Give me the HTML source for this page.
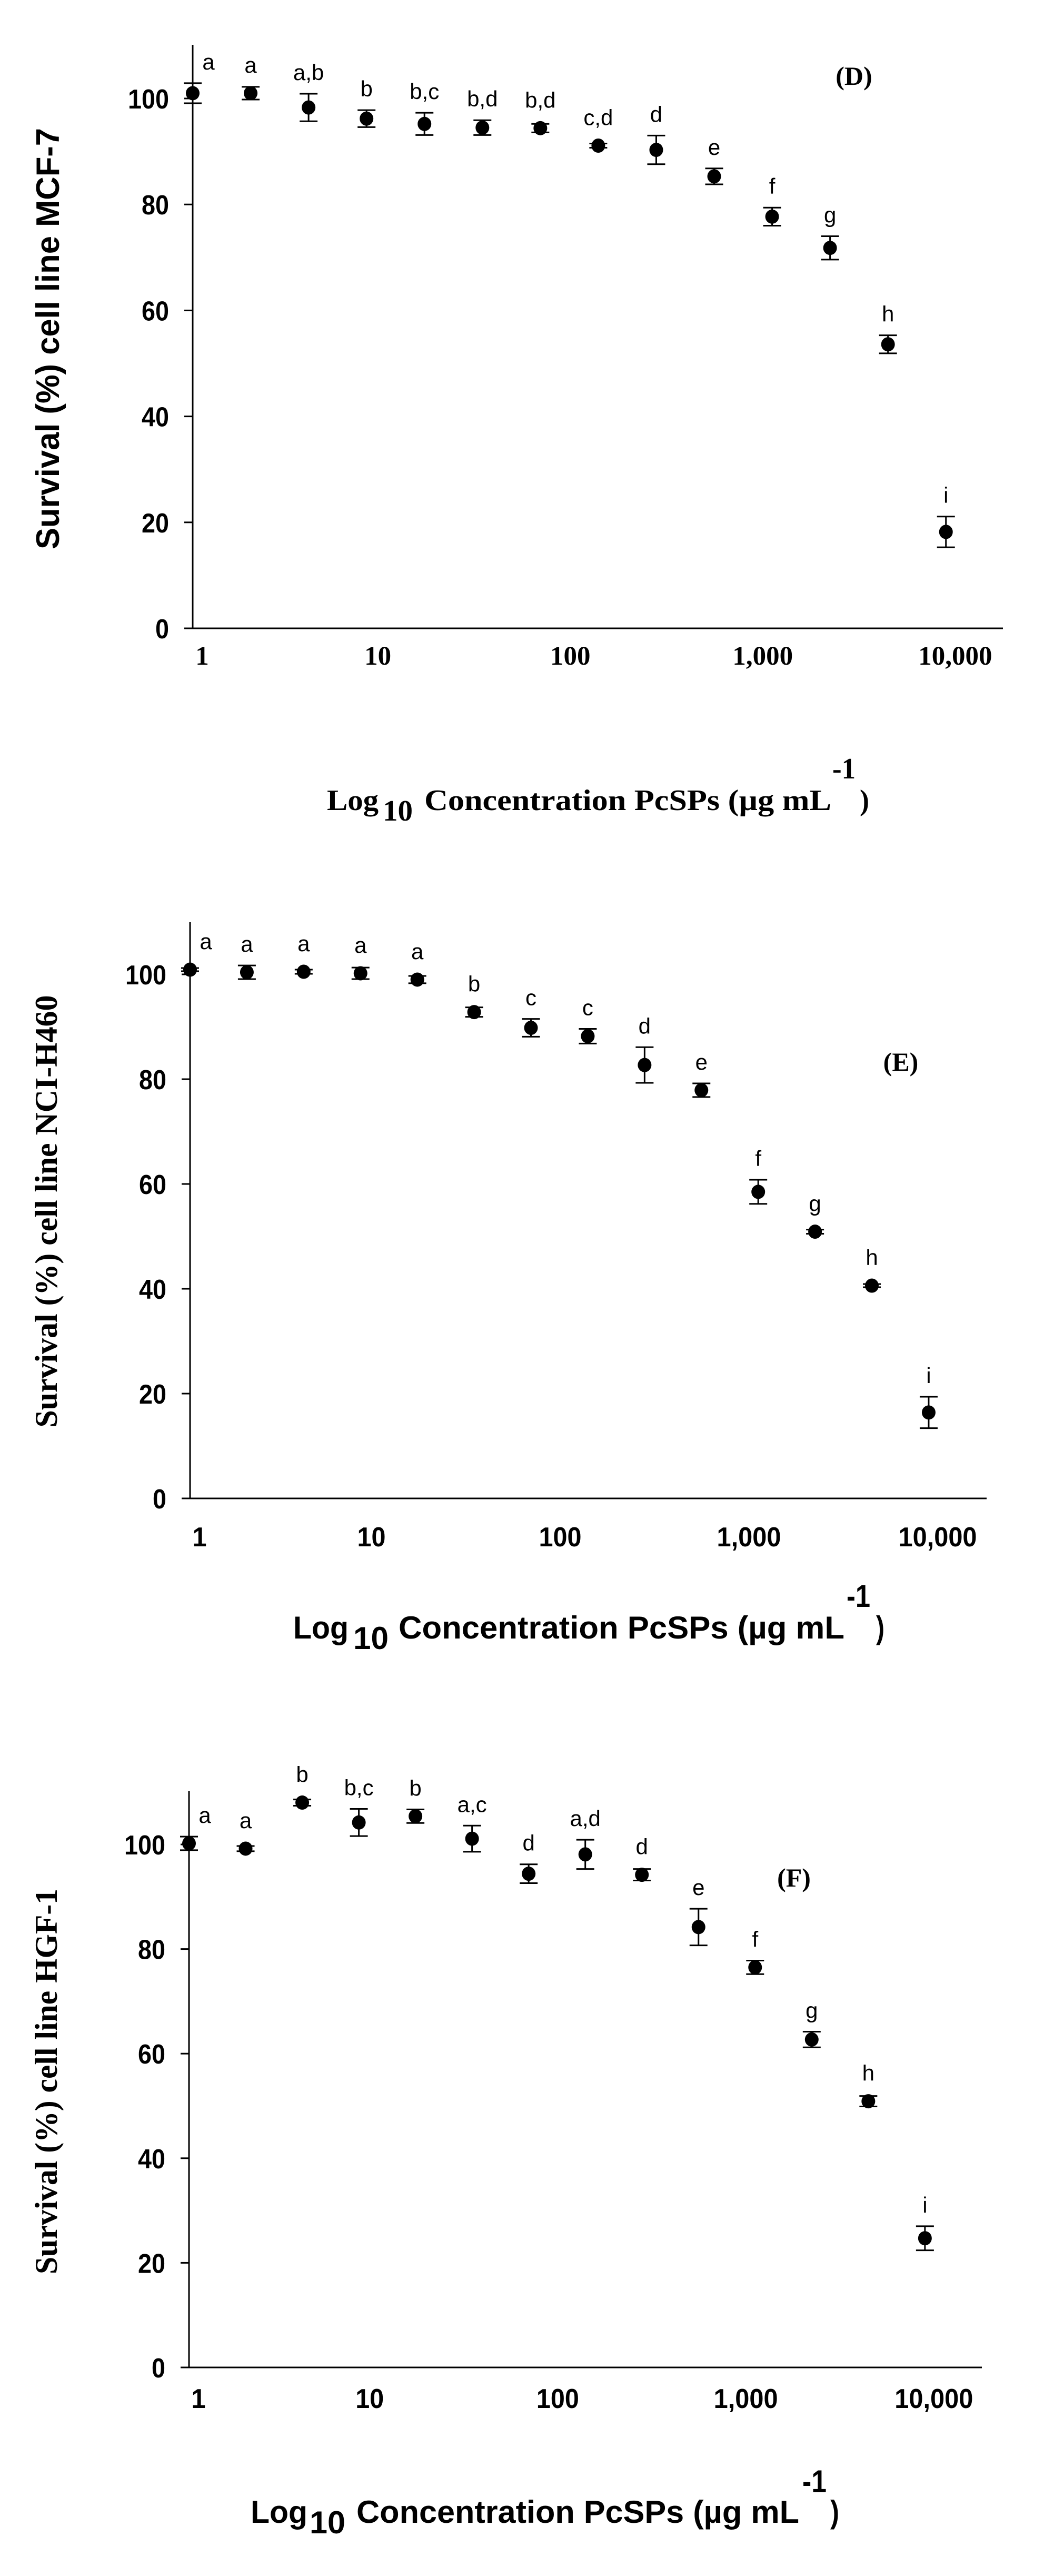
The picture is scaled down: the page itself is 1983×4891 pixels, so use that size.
<!DOCTYPE html>
<html><head><meta charset="utf-8">
<style>
html,body{margin:0;padding:0;background:#fff;}
svg{display:block;}
.tk{font-family:"Liberation Sans Narrow","Liberation Sans",sans-serif;font-weight:bold;font-size:52px;}
.tm{font-family:"Liberation Serif",serif;font-weight:bold;}
.ar{font-family:"Liberation Sans",sans-serif;}
</style></head>
<body>
<svg id="fig" width="1983" height="4891" viewBox="0 0 1983 4891" xmlns="http://www.w3.org/2000/svg">
<rect width="1983" height="4891" fill="#fff"/>
</svg>
<script>
// ---- data ----
const concD = [1,2,4,8,16,32,64,128,256,512,1024,2048,4096,8192];
const survD = [101,101,98.3,96.2,95.2,94.5,94.4,91.1,90.3,85.3,77.7,71.8,53.6,18.2];
const errD  = [1.9,1.2,2.6,1.6,2.1,1.4,0.8,0.4,2.7,1.5,1.7,2.2,1.7,2.9];
const letD  = ["a","a","a,b","b","b,c","b,d","b,d","c,d","d","e","f","g","h","i"];

const concE = [1,2,4,8,16,32,64,128,256,512,1024,2048,4096,8192];
const survE = [100.9,100.4,100.5,100.2,99,92.8,89.8,88.2,82.7,77.9,58.5,50.9,40.6,16.4];
const errE  = [0.3,1.3,0.4,1.1,0.7,0.9,1.7,1.4,3.4,1.3,2.3,0.4,0.3,3.0];
const letE  = ["a","a","a","a","a","b","c","c","d","e","f","g","h","i"];

const concF = [1,2,4,8,16,32,64,128,256,512,1024,2048,4096,8192];
const survF = [100.2,99.2,108,104.2,105.4,101.1,94.4,98.1,94.2,84.2,76.5,62.7,50.9,24.7];
const errF  = [1.3,0.5,0.6,2.6,1.3,2.5,1.8,2.8,1.1,3.5,1.3,1.5,1.0,2.3];
const letF  = ["a","a","b","b,c","b","a,c","d","a,d","d","e","f","g","h","i"];

const yTicks = [0,20,40,60,80,100];
const xTicks = [1,10,100,1000,10000];
const xTickLabels = ["1","10","100","1,000","10,000"];

const NS = "http://www.w3.org/2000/svg";
const svg = document.getElementById("fig");
function mk(tag, attrs, parent){
  const e = document.createElementNS(NS, tag);
  for (const k in attrs) e.setAttribute(k, attrs[k]);
  (parent||svg).appendChild(e);
  return e;
}

function panel(cfg, conc, surv, err, lets){
  const g = mk("g", {});
  
  
  const xs = c => cfg.x0 + Math.log10(c) * cfg.dec;
  const ys = v => cfg.y0 - v * (cfg.y0 - cfg.y100) / 100;

  const ya = mk("line", {x1:cfg.x0, y1:cfg.top, x2:cfg.x0, y2:cfg.y0+1, stroke:"#000","stroke-width":3}, g);
  
  
  const xa = mk("line", {x1:cfg.x0-16, y1:cfg.y0, x2:cfg.xEnd, y2:cfg.y0, stroke:"#000","stroke-width":3}, g);
  
  

  yTicks.forEach(t => {
    const y = ys(t);
    const tl = mk("line", {x1:cfg.x0-16, y1:y, x2:cfg.x0, y2:y, stroke:"#000","stroke-width":3}, g);
    
    
    const s = String(t);
    const tx = mk("text", {x:cfg.x0-45, y:y+19, "text-anchor":"end", class:"tk", textLength:s.length*26, lengthAdjust:"spacingAndGlyphs"}, g);
    tx.textContent = s;
    
    
  });

  xTicks.forEach((t,i) => {
    const s = xTickLabels[i];
    let x = xs(t) + (t === 1 ? 18 : -14);
    let tx;
    if (cfg.serifTicks) {
      tx = mk("text", {x:x, y:cfg.xTickY, "text-anchor":"middle", class:"tm", "font-size":51}, g);
    } else {
      const commas = (s.match(/,/g)||[]).length;
      tx = mk("text", {x:x, y:cfg.xTickY, "text-anchor":"middle", class:"tk", textLength:(s.length-commas)*27+commas*14, lengthAdjust:"spacingAndGlyphs"}, g);
    }
    tx.textContent = s;
    
    
  });

  conc.forEach((c,i) => {
    const x = xs(c), y = ys(surv[i]);
    const yt = ys(surv[i] + err[i]), yb = ys(surv[i] - err[i]);
    const eb = mk("path", {d:`M${x} ${yt}V${yb}M${x-17} ${yt}H${x+17}M${x-17} ${yb}H${x+17}`, stroke:"#000","stroke-width":3, fill:"none"}, g);
    
    
    const pt = mk("ellipse", {cx:x, cy:y, rx:13, ry:13.5, fill:"#000"}, g);
    
    
    const lx = x + (i === 0 ? 30 : 0);
    const lt = mk("text", {x:lx, y:Math.min(yt, y-13) - 26, "text-anchor":"middle", class:"ar", "font-size":42}, g);
    lt.textContent = lets[i];
    
    
  });

  const pl = mk("text", {x:cfg.tagX, y:cfg.tagY+16, "text-anchor":"middle", class:"tm", "font-size":50}, g);
  pl.textContent = cfg.tag;
  
  

  const yt = mk("text", {x:cfg.ytX, y:cfg.ytCY, "text-anchor":"middle", transform:`rotate(-90 ${cfg.ytX} ${cfg.ytCY})`,
    class: cfg.ytSerif ? "tm" : "ar", "font-weight":"bold", "font-size":cfg.ytSize, textLength:cfg.ytLen, lengthAdjust:"spacingAndGlyphs"}, g);
  yt.textContent = cfg.ytText;
  
  

  const cls = cfg.xtSerif ? "tm" : "ar";
  const p = cfg.xt;
  const parts = [
    ["Log", p.logX, p.logW, p.base, p.fs],
    ["10", p.subX, p.subW, p.base+20, p.fs],
    ["Concentration PcSPs (µg mL", p.conX, p.conW, p.base, p.fs],
    ["-1", p.supX, p.supW, p.supBase, p.fs],
    [")", p.parX, p.parW, p.base, p.fs]
  ];
  parts.forEach(q => {
    const t = mk("text", {x:q[1], y:q[3], class:cls, "font-weight":"bold", "font-size":q[4], textLength:q[2], lengthAdjust:"spacingAndGlyphs"}, g);
    t.textContent = q[0];
    
    
  });
}

panel({id:"d-mcf7", x0:366, dec:365.6, y0:1193, y100:187, top:85, xEnd:1905,
  serifTicks:true, xTickY:1262, tag:"(D)", tagX:1622, tagY:145,
  ytText:"Survival (%) cell line MCF-7", ytX:112, ytCY:643, ytLen:800, ytSize:62, ytSerif:false,
  xtSerif:true, xt:{logX:621, logW:98, subX:727, subW:57, conX:806, conW:773, supX:1581, supW:44, parX:1633, parW:18, base:1538, supBase:1478, fs:56}
}, concD, survD, errD, letD);

panel({id:"e-nci-h460", x0:361, dec:358.5, y0:2845, y100:1850, top:1751, xEnd:1874,
  serifTicks:false, xTickY:2936, tag:"(E)", tagX:1711, tagY:2017,
  ytText:"Survival (%) cell line NCI-H460", ytX:108, ytCY:2300, ytLen:821, ytSize:60, ytSerif:true,
  xtSerif:false, xt:{logX:557, logW:105, subX:671, subW:67, conX:757, conW:847, supX:1608, supW:45, parX:1664, parW:16, base:3111, supBase:3051, fs:60}
}, concE, survE, errE, letE);

panel({id:"f-hgf1", x0:359, dec:357.2, y0:4495, y100:3502, top:3401, xEnd:1865,
  serifTicks:false, xTickY:4572, tag:"(F)", tagX:1508, tagY:3566,
  ytText:"Survival (%) cell line HGF-1", ytX:108, ytCY:3952, ytLen:732, ytSize:60, ytSerif:true,
  xtSerif:false, xt:{logX:476, logW:108, subX:588, subW:68, conX:677, conW:841, supX:1524, supW:46, parX:1577, parW:17, base:4790, supBase:4732, fs:60}
}, concF, survF, errF, letF);
</script>
</body></html>
